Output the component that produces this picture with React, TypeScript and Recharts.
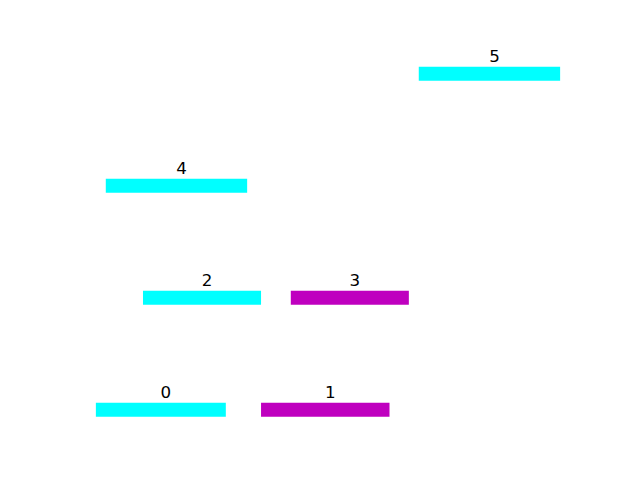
import { BarChart, Bar, XAxis, YAxis, Cell, LabelList } from "recharts"

// bar index, row level, start / end on the x axis, colour
const ids = [0, 1, 2, 3, 4, 5]
const levels = [0, 0, 1, 1, 2, 3]
const starts = [0.32, 3.65, 1.27, 4.25, 0.52, 6.83]
const ends = [2.94, 6.24, 3.65, 6.63, 3.37, 9.68]
const colors = ["#00ffff", "#bf00bf", "#00ffff", "#bf00bf", "#00ffff", "#00ffff"]

const data = ids.map((id, i) => ({
  id,
  level: levels[i],
  range: [starts[i], ends[i]],
}))

const renderLabel = (props: any) => {
  const { x, y, width, value } = props
  return (
    <text
      x={x + width / 2 + 5}
      y={y - 4.5}
      textAnchor="middle"
      fontSize={16.7}
      fontFamily="DejaVu Sans"
      fill="#000"
    >
      {value}
    </text>
  )
}

export default function App() {
  return (
    <div style={{ position: "absolute", left: 0, top: 0, width: 640, height: 480, background: "#fff" }}>
      <BarChart
        width={640}
        height={480}
        data={data}
        layout="vertical"
        margin={{ top: 58, right: 64, bottom: 53, left: 80 }}
      >
        <XAxis type="number" domain={[0, 10]} hide />
        <YAxis type="number" dataKey="level" domain={[-0.155, 3.14]} reversed hide />
        <Bar dataKey="range" barSize={14} isAnimationActive={false}>
          {data.map((d, i) => (
            <Cell key={`c-${d.id}`} fill={colors[i]} />
          ))}
          <LabelList dataKey="id" content={renderLabel} />
        </Bar>
      </BarChart>
    </div>
  )
}
